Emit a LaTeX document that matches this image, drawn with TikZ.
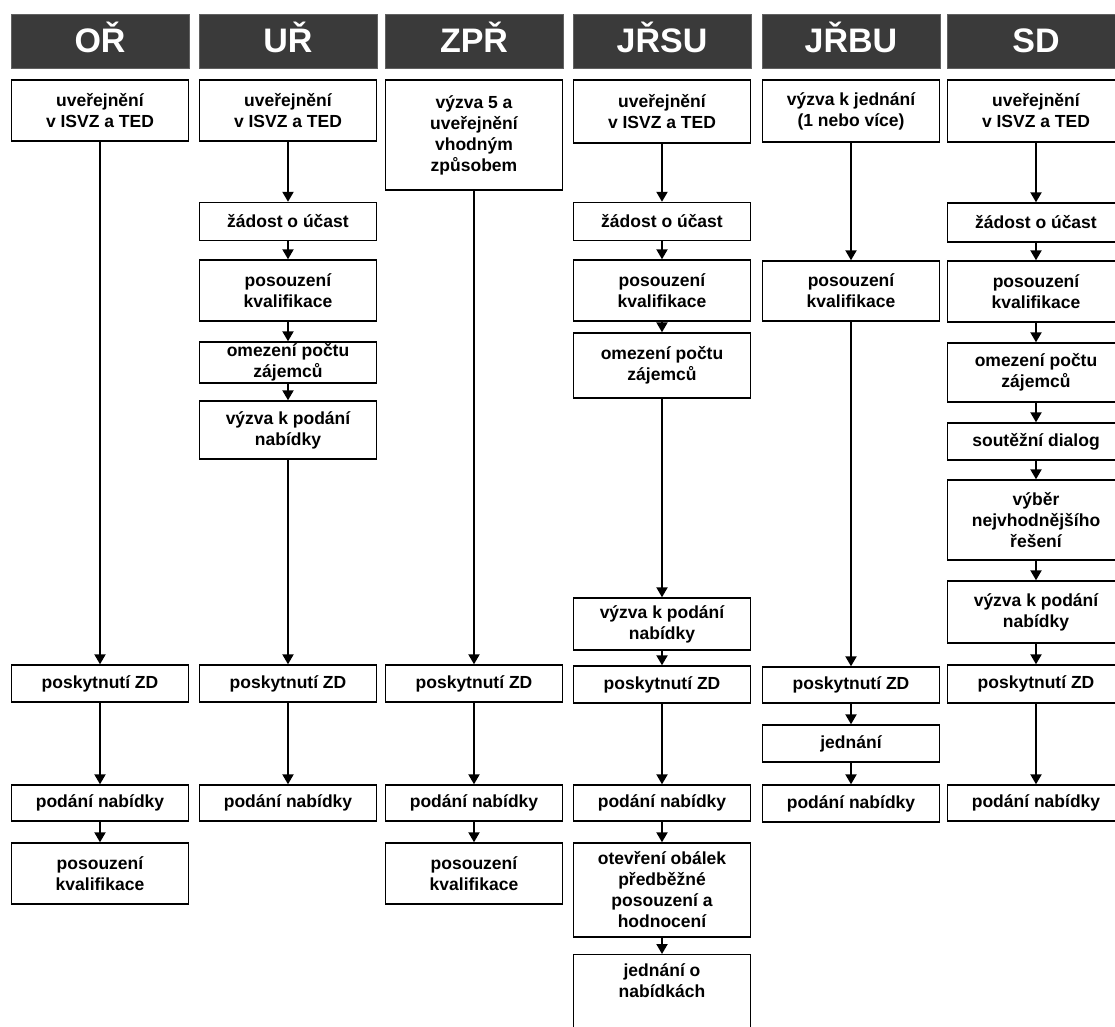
\documentclass[tikz,border=0pt]{standalone}
\usepackage{fontspec}
\setmainfont{Liberation Sans}
\usetikzlibrary{arrows.meta}
\definecolor{hdrgray}{RGB}{58,58,58}
\begin{document}
\begin{tikzpicture}[x=1pt,y=-1pt,
  hdr/.style={fill=hdrgray, draw=hdrgray!80!white, line width=0.8pt, minimum width=178pt, minimum height=54pt, inner sep=0pt, text height=22pt, text depth=0pt, text=white, font=\fontsize{34}{34}\selectfont\bfseries},
  box/.style={draw=black, line width=1.4pt, fill=white, minimum width=177pt, inner sep=0pt, align=center, font=\fontsize{17.5}{21}\selectfont\bfseries},
  arr/.style={-{Triangle[width=11pt,length=10pt]}, line width=2pt}]
\useasboundingbox (0,0) rectangle (1115,1026);
\clip (0,0) rectangle (1115,1026);
\fill[white] (0,0) rectangle (1115,1026);
% headers
\node[hdr] (h1) at (100,41) {OŘ};
\node[hdr] (h2) at (288,41) {UŘ};
\node[hdr] (h3) at (474,41) {ZPŘ};
\node[hdr] (h4) at (662,41) {JŘSU};
\node[hdr] (h5) at (851,41) {JŘBU};
\node[hdr] (h6) at (1036,41) {SD};
% column 1
\node[box, minimum height=61pt] (a1) at (100,110.5) {uveřejnění\\v ISVZ a TED};
\node[box, minimum height=37pt] (a2) at (100,683.5) {poskytnutí ZD};
\node[box, minimum height=36pt] (a3) at (100,803) {podání nabídky};
\node[box, minimum height=61pt] (a4) at (100,873.5) {posouzení\\kvalifikace};
% column 2
\node[box, minimum height=61pt] (b1) at (288,110.5) {uveřejnění\\v ISVZ a TED};
\node[box, minimum height=38pt] (b2) at (288,221.5) {žádost o účast};
\node[box, minimum height=61pt] (b3) at (288,290.5) {posouzení\\kvalifikace};
\node[box, minimum height=41pt] (b4) at (288,362.5) {omezení počtu\\zájemců};
\node[box, minimum height=58pt] (b5) at (288,430) {výzva k podání\\nabídky};
\node[box, minimum height=37pt] (b6) at (288,683.5) {poskytnutí ZD};
\node[box, minimum height=36pt] (b7) at (288,803) {podání nabídky};
% column 3
\node[box, minimum height=110pt] (c1) at (474,135) {výzva 5 a\\uveřejnění\\vhodným\\způsobem};
\node[box, minimum height=37pt] (c2) at (474,683.5) {poskytnutí ZD};
\node[box, minimum height=36pt] (c3) at (474,803) {podání nabídky};
\node[box, minimum height=61pt] (c4) at (474,873.5) {posouzení\\kvalifikace};
% column 4
\node[box, minimum height=63pt] (d1) at (662,111.5) {uveřejnění\\v ISVZ a TED};
\node[box, minimum height=38pt] (d2) at (662,221.5) {žádost o účast};
\node[box, minimum height=61pt] (d3) at (662,290.5) {posouzení\\kvalifikace};
\node[box, minimum height=65pt] (d4) at (662,365.5) {omezení počtu\\zájemců};
\node[box, minimum height=52pt] (d5) at (662,624) {výzva k podání\\nabídky};
\node[box, minimum height=37pt] (d6) at (662,684.5) {poskytnutí ZD};
\node[box, minimum height=36pt] (d7) at (662,803) {podání nabídky};
\node[box, minimum height=94pt] (d8) at (662,890) {otevření obálek\\předběžné\\posouzení a\\hodnocení};
\node[box, minimum height=100pt, anchor=north,
  label={[anchor=north, align=center, inner sep=0pt, yshift=-9pt, font=\fontsize{17.5}{21}\selectfont\bfseries]north:jednání o\\nabídkách}] (d9) at (662,954) {};
% column 5
\node[box, minimum height=62pt] (e1) at (851,111) {výzva k jednání\\(1 nebo více)};
\node[box, minimum height=60pt] (e2) at (851,291) {posouzení\\kvalifikace};
\node[box, minimum height=36pt] (e3) at (851,685) {poskytnutí ZD};
\node[box, minimum height=37pt] (e4) at (851,743.5) {jednání};
\node[box, minimum height=37pt] (e5) at (851,803.5) {podání nabídky};
% column 6
\node[box, minimum height=62pt] (f1) at (1036,111) {uveřejnění\\v ISVZ a TED};
\node[box, minimum height=39pt] (f2) at (1036,222.5) {žádost o účast};
\node[box, minimum height=61pt] (f3) at (1036,291.5) {posouzení\\kvalifikace};
\node[box, minimum height=59pt] (f4) at (1036,372.5) {omezení počtu\\zájemců};
\node[box, minimum height=37pt] (f5) at (1036,441.5) {soutěžní dialog};
\node[box, minimum height=80pt] (f6) at (1036,520) {výběr\\nejvhodnějšího\\řešení};
\node[box, minimum height=62pt] (f7) at (1036,612) {výzva k podání\\nabídky};
\node[box, minimum height=38pt] (f8) at (1036,684) {poskytnutí ZD};
\node[box, minimum height=36pt] (f9) at (1036,803) {podání nabídky};
% arrows
\draw[arr] (a1) -- (a2); \draw[arr] (a2) -- (a3); \draw[arr] (a3) -- (a4);
\draw[arr] (b1) -- (b2); \draw[arr] (b2) -- (b3); \draw[arr] (b3) -- (b4);
\draw[arr] (b4) -- (b5); \draw[arr] (b5) -- (b6); \draw[arr] (b6) -- (b7);
\draw[arr] (c1) -- (c2); \draw[arr] (c2) -- (c3); \draw[arr] (c3) -- (c4);
\draw[arr] (d1) -- (d2); \draw[arr] (d2) -- (d3); \draw[arr] (d3) -- (d4);
\draw[arr] (d4) -- (d5); \draw[arr] (d5) -- (d6); \draw[arr] (d6) -- (d7);
\draw[arr] (d7) -- (d8); \draw[arr] (d8) -- (d9);
\draw[arr] (e1) -- (e2); \draw[arr] (e2) -- (e3); \draw[arr] (e3) -- (e4); \draw[arr] (e4) -- (e5);
\draw[arr] (f1) -- (f2); \draw[arr] (f2) -- (f3); \draw[arr] (f3) -- (f4);
\draw[arr] (f4) -- (f5); \draw[arr] (f5) -- (f6); \draw[arr] (f6) -- (f7);
\draw[arr] (f7) -- (f8); \draw[arr] (f8) -- (f9);
\end{tikzpicture}
\end{document}
